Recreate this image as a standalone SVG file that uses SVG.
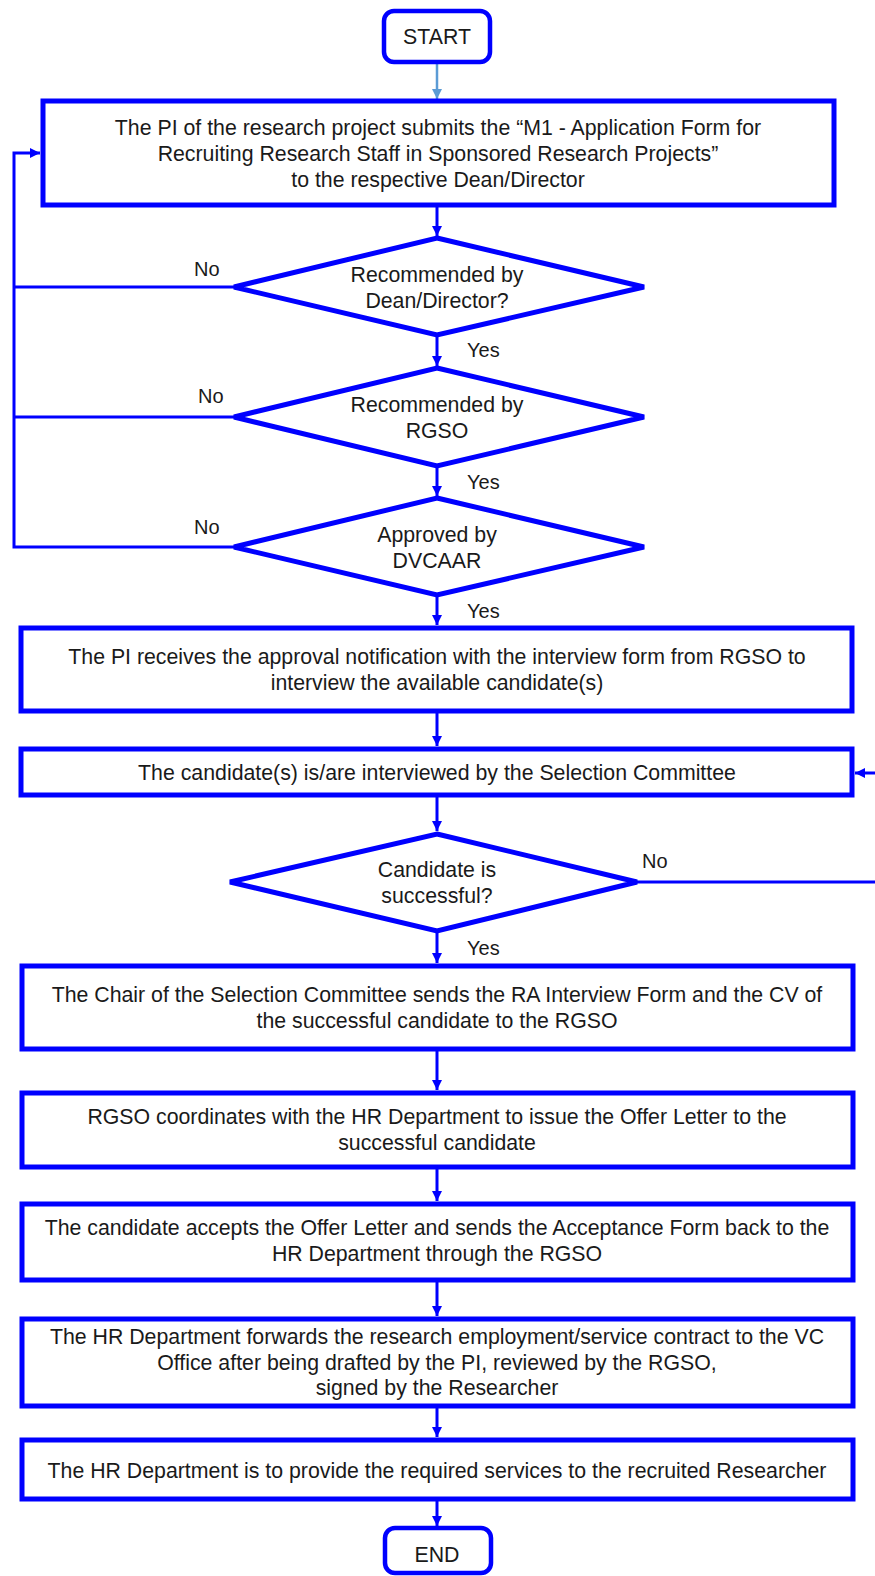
<svg xmlns="http://www.w3.org/2000/svg" width="875" height="1576" viewBox="0 0 875 1576">
<defs>
<style>
.box{fill:#fff;stroke:#0000ff;stroke-width:5}
.term{fill:#fff;stroke:#0000ff;stroke-width:4.5}
.dia{fill:#fff;stroke:#0000ff;stroke-width:5;stroke-linejoin:miter}
.con{fill:none;stroke:#0000ff;stroke-width:3}
.t{font-family:"Liberation Sans",Arial,sans-serif;font-size:21.3px;fill:#1a1a1a;text-anchor:middle}
.l{font-family:"Liberation Sans",Arial,sans-serif;font-size:20px;fill:#1a1a1a}
</style>
<marker id="ah" viewBox="0 0 10 10" refX="10" refY="5" markerWidth="10" markerHeight="10" markerUnits="userSpaceOnUse" orient="auto">
<path d="M0,0 L10,5 L0,10 z" fill="#0000ff"/>
</marker>
<marker id="ahl" viewBox="0 0 10 10" refX="10" refY="5" markerWidth="10" markerHeight="10" markerUnits="userSpaceOnUse" orient="auto">
<path d="M0,0 L10,5 L0,10 z" fill="#5b9bd5"/>
</marker>
</defs>
<rect width="875" height="1576" fill="#fff"/>
<g id="connectors">
<line x1="437" y1="63" x2="437" y2="99" stroke="#5b9bd5" stroke-width="2.5" marker-end="url(#ahl)"/>
<line class="con" x1="437" y1="207" x2="437" y2="236" marker-end="url(#ah)"/>
<line class="con" x1="437" y1="336" x2="437" y2="366" marker-end="url(#ah)"/>
<line class="con" x1="437" y1="468" x2="437" y2="496" marker-end="url(#ah)"/>
<line class="con" x1="437" y1="596" x2="437" y2="625" marker-end="url(#ah)"/>
<line class="con" x1="437" y1="713" x2="437" y2="746" marker-end="url(#ah)"/>
<line class="con" x1="437" y1="797" x2="437" y2="831" marker-end="url(#ah)"/>
<line class="con" x1="437" y1="933" x2="437" y2="963" marker-end="url(#ah)"/>
<line class="con" x1="437" y1="1051" x2="437" y2="1090" marker-end="url(#ah)"/>
<line class="con" x1="437" y1="1169" x2="437" y2="1201" marker-end="url(#ah)"/>
<line class="con" x1="437" y1="1282" x2="437" y2="1316" marker-end="url(#ah)"/>
<line class="con" x1="437" y1="1408" x2="437" y2="1437" marker-end="url(#ah)"/>
<line class="con" x1="437" y1="1501" x2="437" y2="1526" marker-end="url(#ah)"/>
<polyline class="con" points="234,287 14,287"/>
<polyline class="con" points="234,417 14,417"/>
<polyline class="con" points="234,547 14,547 14,153 40,153" marker-end="url(#ah)"/>
<polyline class="con" points="637,882 875,882"/>
<line class="con" x1="875" y1="773" x2="855" y2="773" marker-end="url(#ah)"/>
</g>
<g id="start"><rect class="term" x="384" y="11" width="106" height="51" rx="10"/><text class="t" x="437" y="44">START</text></g>
<g id="submit"><rect class="box" x="43" y="101" width="791" height="104"/>
<text class="t" x="438" y="135">The PI of the research project submits the “M1 - Application Form for</text>
<text class="t" x="438" y="161">Recruiting Research Staff in Sponsored Research Projects”</text>
<text class="t" x="438" y="187">to the respective Dean/Director</text></g>
<g id="dean"><polygon class="dia" points="437,238 644,287 437,335 234,287"/>
<text class="t" x="437" y="282">Recommended by</text><text class="t" x="437" y="308">Dean/Director?</text></g>
<g id="rgso"><polygon class="dia" points="437,368 644,417 437,466 234,417"/>
<text class="t" x="437" y="412">Recommended by</text><text class="t" x="437" y="438">RGSO</text></g>
<g id="dvcaar"><polygon class="dia" points="437,498 644,547 437,595 234,547"/>
<text class="t" x="437" y="542">Approved by</text><text class="t" x="437" y="568">DVCAAR</text></g>
<g id="labels">
<text class="l" x="194" y="276">No</text>
<text class="l" x="198" y="403">No</text>
<text class="l" x="194" y="534">No</text>
<text class="l" x="467" y="357">Yes</text>
<text class="l" x="467" y="489">Yes</text>
<text class="l" x="467" y="618">Yes</text>
<text class="l" x="642" y="868">No</text>
<text class="l" x="467" y="955">Yes</text>
</g>
<g id="notify"><rect class="box" x="21" y="628" width="831" height="83"/>
<text class="t" x="437" y="664">The PI receives the approval notification with the interview form from RGSO to</text>
<text class="t" x="437" y="690">interview the available candidate(s)</text></g>
<g id="interview"><rect class="box" x="21" y="749" width="831" height="46"/>
<text class="t" x="437" y="780">The candidate(s) is/are interviewed by the Selection Committee</text></g>
<g id="success"><polygon class="dia" points="437,834 637,882 437,931 230,882"/>
<text class="t" x="437" y="877">Candidate is</text><text class="t" x="437" y="903">successful?</text></g>
<g id="chair"><rect class="box" x="22" y="966" width="831" height="83"/>
<text class="t" x="437" y="1002">The Chair of the Selection Committee sends the RA Interview  Form and the CV of</text>
<text class="t" x="437" y="1028">the successful  candidate to the RGSO</text></g>
<g id="offer"><rect class="box" x="22" y="1093" width="831" height="74"/>
<text class="t" x="437" y="1124">RGSO coordinates with the HR Department to issue the Offer Letter to the</text>
<text class="t" x="437" y="1150">successful  candidate</text></g>
<g id="accept"><rect class="box" x="22" y="1204" width="831" height="76"/>
<text class="t" x="437" y="1235">The candidate accepts the Offer Letter and sends the Acceptance Form back to the</text>
<text class="t" x="437" y="1261">HR Department through  the RGSO</text></g>
<g id="contract"><rect class="box" x="22" y="1319" width="831" height="87"/>
<text class="t" x="437" y="1344">The HR Department forwards the research employment/service  contract to the VC</text>
<text class="t" x="437" y="1370">Office after being drafted by the PI, reviewed by the RGSO,</text>
<text class="t" x="437" y="1395">signed by the Researcher</text></g>
<g id="services"><rect class="box" x="22" y="1440" width="831" height="59"/>
<text class="t" x="437" y="1478">The HR Department is to provide the required services to the recruited Researcher</text></g>
<g id="end"><rect class="term" x="385" y="1528" width="106" height="45" rx="10"/><text class="t" x="437" y="1562">END</text></g>
</svg>
